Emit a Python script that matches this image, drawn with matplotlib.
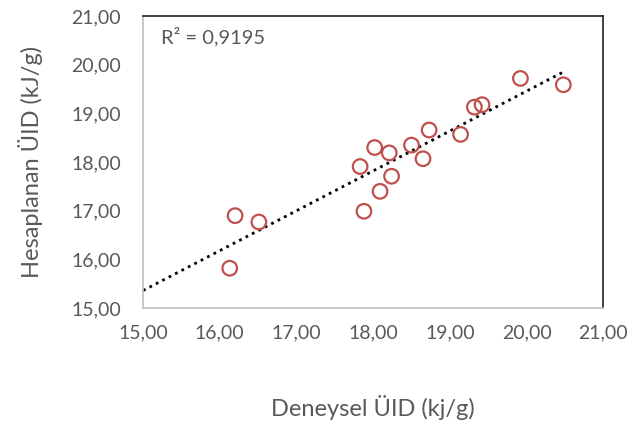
import matplotlib.pyplot as plt
import numpy as np

deneysel = [19.92, 20.48, 19.32, 19.42, 18.73, 19.14, 18.02, 18.21, 18.50,
            18.65, 17.83, 18.24, 18.09, 17.88, 16.20, 16.51, 16.13]
hesaplanan = [19.72, 19.59, 19.13, 19.18, 18.66, 18.57, 18.30, 18.19, 18.35,
              18.07, 17.91, 17.71, 17.40, 16.99, 16.90, 16.77, 15.82]
ticks = [15, 16, 17, 18, 19, 20, 21]
r2_text = "R² = 0,9195"

plt.rcParams['font.family'] = ['Lato', 'DejaVu Sans']

fig = plt.figure(figsize=(6.33, 4.25), dpi=100)
ax = fig.add_axes([0.226, 0.275, 0.727, 0.687])

x = np.array(deneysel)
y = np.array(hesaplanan)
ax.scatter(x, y, s=110, facecolors='none', edgecolors='#C0504D', linewidths=1.6, zorder=3)

# linear trendline
k, b = np.polyfit(x, y, 1)
xs = np.array([15, x.max()])
ax.plot(xs, k * xs + b, color='black', linestyle=(0, (1, 1.6)), linewidth=2, zorder=2)

ax.set_xlim(15, 21)
ax.set_ylim(15, 21)
ax.set_xticks(ticks)
ax.set_yticks(ticks)
lbl = [f"{t:.2f}".replace('.', ',') for t in ticks]
ax.set_xticklabels(lbl)
ax.set_yticklabels(lbl)
ax.tick_params(length=0, labelsize=14, labelcolor='#595959')
ax.tick_params(axis='y', pad=16)
ax.tick_params(axis='x', pad=12)

for s in ['top', 'right']:
    ax.spines[s].set_color('#222222')
for s in ['left', 'bottom']:
    ax.spines[s].set_color('#BFBFBF')
for s in ax.spines.values():
    s.set_linewidth(1.2)

ax.text(0.04, 0.93, r2_text, transform=ax.transAxes, fontsize=14.5,
        color='#595959', va='center')

ax.set_xlabel("Deneysel ÜID (kj/g)", fontsize=17, color='#595959', labelpad=38)
ax.set_ylabel("Hesaplanan ÜID (kJ/g)", fontsize=17, color='#595959', labelpad=20)

fig.savefig("out.png", dpi=100)
